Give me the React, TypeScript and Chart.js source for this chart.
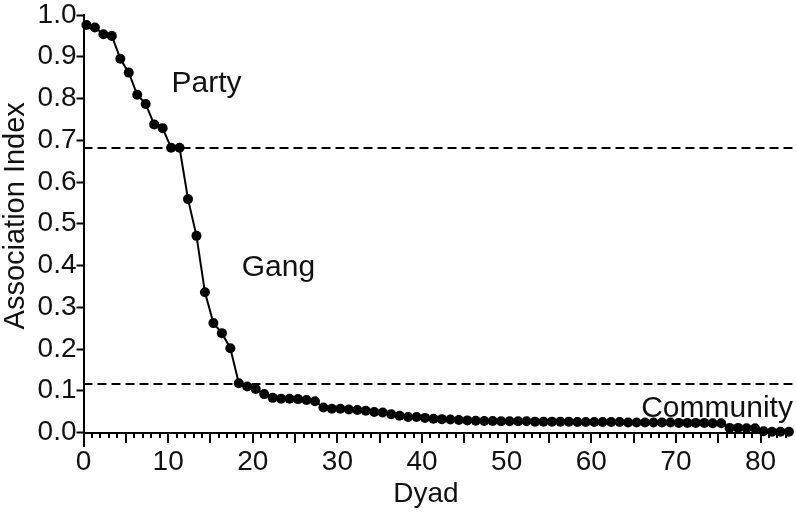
import { useEffect, useRef } from "react";
import { Chart, registerables } from "chart.js";

Chart.register(...registerables);

// Association index of each dyad, ranked from highest to lowest
const associationIndex: number[] = [
  0.976, 0.970, 0.954, 0.950, 0.895, 0.862, 0.809, 0.787, 0.738, 0.729,
  0.682, 0.682, 0.559, 0.471, 0.336, 0.262, 0.238, 0.202, 0.118, 0.110,
  0.104, 0.092, 0.083, 0.081, 0.081, 0.080, 0.078, 0.075, 0.060, 0.057,
  0.057, 0.055, 0.054, 0.052, 0.049, 0.048, 0.044, 0.040, 0.037, 0.037,
  0.035, 0.033, 0.032, 0.031, 0.030, 0.029, 0.028, 0.0275, 0.0275, 0.027,
  0.027, 0.027, 0.027, 0.026, 0.026, 0.026, 0.026, 0.026, 0.025, 0.025,
  0.025, 0.025, 0.025, 0.025, 0.024, 0.024, 0.024, 0.024, 0.024, 0.024,
  0.023, 0.023, 0.023, 0.023, 0.022, 0.022, 0.011, 0.011, 0.010, 0.010,
  0.003, 0.002, 0.002, 0.002,
];

// rank position of each dyad on the x axis (first dyad sits just right of 0)
const dyadStart = 0.35;

const xTickValues: number[] = [0, 10, 20, 30, 40, 50, 60, 70, 80];
const yTickValues: number[] = [0, 0.1, 0.2, 0.3, 0.4, 0.5, 0.6, 0.7, 0.8, 0.9, 1.0];

// thresholds separating Party / Gang / Community
const thresholds: number[] = [0.682, 0.116];

const regionNames: string[] = ["Party", "Gang", "Community"];
const regionNameX: number[] = [10.4, 18.7, 65.9];
const regionNameY: number[] = [0.816, 0.375, 0.037];

const xTitle = "Dyad";
const yTitle = "Association Index";

const FONT = '"Liberation Sans", Arial, Helvetica, sans-serif';

const overlayPlugin = {
  id: "overlay",
  beforeDatasetsDraw(chart: any) {
    const { ctx, chartArea, scales } = chart;
    const x = scales.x;
    const y = scales.y;
    ctx.save();
    ctx.strokeStyle = "#000";
    ctx.lineWidth = 2;
    // dashed threshold lines
    ctx.setLineDash([9, 5]);
    thresholds.forEach((t) => {
      const py = Math.round(y.getPixelForValue(t));
      ctx.beginPath();
      ctx.moveTo(chartArea.left, py);
      ctx.lineTo(chart.width, py);
      ctx.stroke();
    });
    ctx.setLineDash([]);
    // minor / major ticks on the x axis
    const base = Math.round(chartArea.bottom);
    for (let v = 0; v <= Math.floor(x.max); v++) {
      const px = Math.round(x.getPixelForValue(v));
      const len = v === 0 ? 14 : v % 5 === 0 ? 10 : 5;
      ctx.beginPath();
      ctx.moveTo(px, base);
      ctx.lineTo(px, base + len);
      ctx.stroke();
    }
    ctx.restore();
  },
  afterDatasetsDraw(chart: any) {
    const { ctx, scales, chartArea } = chart;
    ctx.save();
    ctx.fillStyle = "#111";
    ctx.font = `30px ${FONT}`;
    ctx.textAlign = "left";
    ctx.textBaseline = "alphabetic";
    regionNames.forEach((name, i) => {
      ctx.fillText(
        name,
        scales.x.getPixelForValue(regionNameX[i]),
        scales.y.getPixelForValue(regionNameY[i])
      );
    });
    // axis titles
    ctx.textAlign = "center";
    ctx.textBaseline = "middle";
    ctx.font = `28px ${FONT}`;
    ctx.fillText(xTitle, chartArea.left + (chartArea.right - chartArea.left) * 0.484, chart.height - 19);
    ctx.translate(16, chartArea.top + (chartArea.bottom - chartArea.top) * 0.481);
    ctx.rotate(-Math.PI / 2);
    ctx.font = `29px ${FONT}`;
    ctx.fillText(yTitle, 0, 0);
    ctx.restore();
  },
};

export default function App() {
  const canvasRef = useRef<HTMLCanvasElement | null>(null);

  useEffect(() => {
    if (!canvasRef.current) return;
    const points = associationIndex.map((v, i) => ({ x: i + dyadStart, y: v }));
    const chart = new Chart(canvasRef.current, {
      type: "line",
      data: {
        datasets: [
          {
            data: points,
            borderColor: "#000",
            borderWidth: 2,
            backgroundColor: "#000",
            pointBackgroundColor: "#000",
            pointBorderColor: "#000",
            pointBorderWidth: 0,
            pointRadius: 5,
            pointHoverRadius: 5,
            tension: 0,
            fill: false,
            clip: false as any,
          },
        ],
      },
      options: {
        animation: false,
        responsive: false,
        devicePixelRatio: 1,
        layout: { padding: { left: 0, top: 15, right: 5, bottom: 0 } },
        plugins: {
          legend: { display: false },
          tooltip: { enabled: false },
        },
        scales: {
          x: {
            type: "linear",
            min: 0,
            max: 83.6,
            afterFit: (s: any) => {
              s.height = 80.5;
            },
            afterBuildTicks: (s: any) => {
              s.ticks = xTickValues.map((v) => ({ value: v }));
            },
            border: { display: true, color: "#000", width: 2 },
            grid: { display: true, drawOnChartArea: false, drawTicks: false },
            ticks: {
              color: "#111",
              padding: 13,
              maxRotation: 0,
              autoSkip: false,
              font: { family: FONT, size: 28, lineHeight: 1.2 },
              callback: (v: any) => String(v),
            },
            title: { display: false, text: xTitle },
          },
          y: {
            type: "linear",
            min: 0,
            max: 1,
            afterFit: (s: any) => {
              s.width = 83.5;
            },
            afterBuildTicks: (s: any) => {
              s.ticks = yTickValues.map((v) => ({ value: v }));
            },
            border: { display: true, color: "#000", width: 2 },
            grid: {
              display: true,
              drawOnChartArea: false,
              drawTicks: true,
              tickLength: 7,
              tickWidth: 2,
              tickColor: "#000",
            },
            ticks: {
              color: "#111",
              padding: 0,
              autoSkip: false,
              font: { family: FONT, size: 28, lineHeight: 1.0 },
              callback: (v: any) => Number(v).toFixed(1),
            },
            title: { display: false, text: yTitle },
          },
        },
      },
      plugins: [overlayPlugin],
    });
    return () => chart.destroy();
  }, []);

  return (
    <div style={{ position: "absolute", left: 0, top: 0, width: 796, height: 513 }}>
      <canvas ref={canvasRef} width={796} height={513} />
    </div>
  );
}
